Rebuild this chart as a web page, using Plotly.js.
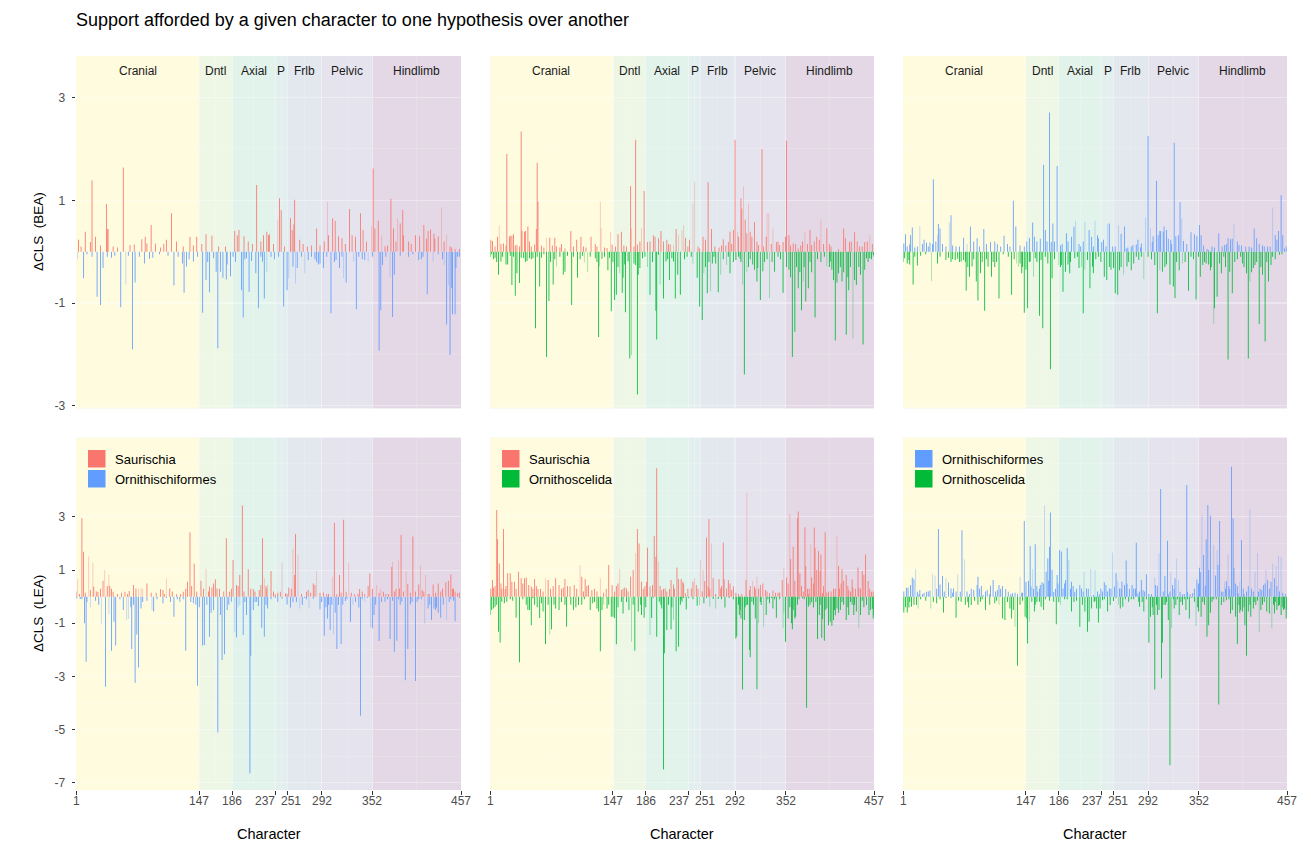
<!DOCTYPE html>
<html>
<head>
<meta charset="utf-8">
<script src="https://cdn.plot.ly/plotly-3.0.1.min.js"></script>
<style>html,body{margin:0;padding:0;background:#fff;}#chart{width:1311px;height:842px;}</style>
</head>
<body>
<div id="chart"></div>
<script>
// ---------------- DATA ----------------
const sectionNames = ['Cranial','Dntl','Axial','P','Frlb','Pelvic','Hindlimb'];
const sectionBreaks = [1,147,186,237,251,292,352,457];
const sectionColors = ['#FEFBDF','#EEF7E5','#E1F3EA','#E2EFEE','#E2E8EE','#E5E4EE','#E4D8E6'];
const hypNames = ['Saurischia','Ornithischiformes','Ornithoscelida'];
const hypColors = ['#F8766D','#619CFF','#00BA38'];
const topTickVals = [-3,-1,1,3];
const topTickText = ['-3','-1','1','3'];
const botTickVals = [-7,-5,-3,-1,1,3];
const botTickText = ['-7','-5','-3','-1','1','3'];

// each entry: [character, dCLS, pale?]
// BEA : Saurischia (+) vs Ornithischiformes (-)
const beaSauOrn_sau = [[4,0.23],[7,0.1],[12,0.39],[18,0.19],[20,1.39],[24,0.29],[30,0.12],[37,0.93],[38,0.44],[39,0.44],[45,0.1],[50,0.08],[57,1.64],[65,0.13],[70,0.14],[79,0.24],[83,0.29],[85,0.16],[90,0.52],[95,0.16],[101,0.08],[105,0.15],[108,0.23],[114,0.75],[120,0.2],[128,0.1],[136,0.29],[140,0.12],[144,0.29],[150,0.15],[155,0.34],[162,0.31],[170,0.1],[178,0.1],[189,0.4],[192,0.32],[194,0.42],[200,0.3],[205,0.2],[210,0.15],[215,1.3],[220,0.2],[223,0.32],[227,0.39],[230,0.34],[229,0.32],[235,0.15],[240,0.62,1],[242,1.04],[244,0.81],[248,0.1],[255,0.65],[257,0.42],[259,0.53],[260,1.01],[266,0.23],[270,0.15],[275,0.1],[280,0.12],[286,0.45],[290,0.12],[295,0.2],[299,0.97,1],[300,0.32],[305,0.65],[308,0.6],[312,0.3],[316,0.26],[320,0.15],[325,0.83],[328,0.32],[332,0.29],[338,0.75],[341,0.42],[345,0.2],[351,0.5,1],[353,1.62],[355,0.45],[359,0.6],[363,0.32,1],[367,0.1],[370,0.12],[374,1.03],[377,0.45],[380,0.2],[382,0.65,1],[385,0.55],[388,0.81],[389,0.32],[395,0.2],[398,0.15],[403,0.32],[408,0.3],[413,0.52],[416,0.25],[418,0.4],[421,0.43],[425,0.35],[426,0.25],[430,0.3],[434,0.86,1],[437,0.2],[440,0.34,1],[444,0.1],[446,0.08],[450,0.05],[455,0.05]];
const beaSauOrn_orn = [[3,-0.15,1],[10,-0.52],[14,-0.05],[20,-0.1],[26,-0.88],[30,-1.04],[33,-0.32],[38,-0.1],[43,-0.12],[47,-0.08],[54,-1.08],[60,-0.64,1],[63,-0.08],[68,-1.9],[71,-0.6],[76,-0.1],[82,-0.23],[88,-0.14],[92,-0.12],[100,-0.05],[110,-0.08],[117,-0.66],[122,-0.1],[127,-0.23],[129,-0.8],[132,-0.29],[135,-0.15],[140,-0.19],[145,-0.1],[151,-1.19],[155,-0.55],[157,-0.2],[159,-0.79],[164,-0.13],[167,-0.39],[169,-1.88],[172,-0.39],[175,-0.51],[179,-0.54],[180,-0.25],[184,-0.48],[187,-0.1],[190,-0.2],[197,-0.75],[199,-1.28],[201,-0.15],[203,-0.13],[206,-0.78],[209,-0.18],[214,-0.42],[217,-1.1],[220,-0.1],[222,-0.19],[224,-0.91],[227,-0.4,1],[232,-0.1],[236,-0.15],[241,-0.1],[247,-1.07],[251,-0.75],[253,-0.52,1],[258,-0.29],[261,-0.62,1],[263,-0.32],[268,-0.1],[272,-0.42,1],[276,-0.16],[280,-0.1],[284,-0.15],[286,-0.2],[288,-0.25],[290,-0.23],[294,-0.32],[298,-0.1],[303,-1.2],[307,-0.2],[309,-0.16],[313,-0.32],[316,-0.1],[318,-0.52,1],[321,-0.6],[330,-0.19,1],[333,-1.12],[336,-0.1],[340,-0.15],[343,-0.16],[347,-0.19,1],[352,-0.1],[360,-1.93],[362,-1.14],[364,-0.26],[368,-0.1],[373,-0.49,1],[376,-1.27],[378,-0.45],[385,-0.08],[395,-0.1],[400,-0.05],[407,-0.16],[410,-0.15],[412,-0.1],[417,-0.83],[424,-0.19,1],[430,-0.05],[435,-0.15],[437,-0.26,1],[440,-1.42],[442,-0.65,1],[444,-2.01],[446,-0.71],[447,-1.22],[450,-1.22],[451,-0.32],[453,-0.1],[455,-0.1]];

// BEA : Saurischia (+) vs Ornithoscelida (-)
const beaSauOsc_sau = [[2,0.23],[4,0.21],[7,0.1],[10,0.29],[12,0.51,1],[14,0.15],[17,0.16],[20,0.12],[21,1.9],[24,0.29],[25,0.31],[27,0.31],[29,0.34],[31,0.12],[33,0.13],[36,0.1],[38,2.34],[39,0.4],[42,0.39],[43,0.4],[46,0.49],[48,0.2],[50,0.1],[54,0.14],[56,0.44],[57,1.73],[58,0.97],[62,0.12],[65,0.08],[68,0.27,1],[72,0.27],[75,0.12],[78,0.27],[80,0.1],[84,0.08],[86,0.15],[90,0.06],[97,0.4],[100,0.1],[104,0.23],[109,0.29],[112,0.1],[115,0.08],[121,0.29],[126,0.15],[128,0.1],[132,0.97,1],[133,0.45,1],[137,0.08],[140,0.07],[144,0.39,1],[146,0.14],[150,0.1],[153,0.34],[157,0.39],[160,0.12],[163,0.1],[168,1.28],[169,0.45,1],[172,0.1],[174,2.18],[176,0.14],[179,0.2],[181,0.45,1],[184,1.18],[188,0.19],[191,0.2],[195,0.32],[197,0.29],[201,0.26],[204,0.4],[207,0.2],[211,0.23],[213,0.15],[215,0.14],[219,0.13,1],[222,0.44],[225,0.32,1],[229,0.42,1],[231,0.52,1],[233,0.27],[236,0.1],[238,0.23],[242,0.94,1],[244,1.36,1],[248,0.1],[250,0.06],[254,0.29],[257,0.23],[260,1.35],[264,0.44],[268,0.1],[273,0.08],[276,0.12],[278,0.24],[281,0.12],[284,0.19],[286,0.39],[288,0.15],[290,0.42],[292,2.18],[295,0.39,1],[296,0.29],[299,1.04],[300,0.84],[302,1.27,1],[304,0.62],[306,0.36],[308,0.94,1],[310,0.39],[312,0.29],[315,0.58],[318,0.2],[320,0.13],[324,2.0],[326,0.1],[329,0.29],[330,0.75,1],[332,0.75,1],[335,0.15],[337,0.45,1],[341,0.19],[343,0.2],[345,0.13],[349,0.19],[352,0.29],[353,2.16],[356,0.32],[358,0.12],[361,0.16],[364,0.15],[367,0.06],[370,0.12],[372,0.2],[375,0.39,1],[378,0.15],[381,0.42],[383,0.13],[386,0.2],[389,0.29],[392,0.23],[394,0.63,1],[397,0.15],[401,0.45],[404,0.15],[406,0.1],[415,0.05],[421,0.45],[423,0.26],[428,0.19],[430,0.2],[434,0.38],[437,0.2],[440,0.1],[443,0.1],[446,0.19],[449,0.2],[452,0.32,1],[455,0.15]];
const beaSauOsc_osc = [[1,-0.1],[3,-0.05],[5,-0.15],[7,-0.12],[9,-0.2],[11,-0.45],[14,-0.19],[16,-0.1],[20,-0.25],[22,-0.25],[25,-0.08],[27,-0.65],[29,-0.1],[31,-0.86],[33,-0.42],[36,-0.61],[38,-0.12],[41,-0.13],[43,-0.2],[45,-0.18],[48,-0.13],[50,-0.15],[52,-0.13],[55,-1.49],[57,-0.1],[60,-0.68],[62,-0.12],[65,-0.05],[68,-2.05],[71,-0.96],[73,-0.2],[76,-0.64],[78,-0.15],[80,-0.29,1],[84,-0.1],[88,-0.45],[90,-0.39],[93,-0.08],[98,-1.04],[100,-0.1],[105,-0.51],[108,-0.15],[111,-0.08],[113,-0.21,1],[117,-0.39,1],[120,-0.1],[126,-0.13],[128,-0.2],[130,-1.66],[131,-0.29,1],[134,-0.14],[137,-0.1],[141,-0.36],[143,-0.12],[145,-1.16],[147,-0.2],[149,-0.94],[151,-0.84],[153,-0.3],[155,-0.42,1],[158,-0.8],[159,-0.51],[161,-0.25],[162,-1.18],[165,-0.19],[167,-2.08],[169,-2.01,1],[172,-0.23],[174,-0.26],[176,-2.78],[177,-0.45],[179,-0.32],[182,-0.13],[185,-0.1],[188,-0.3,1],[191,-0.84],[194,-0.2],[198,-1.15],[199,-1.71],[201,-0.06],[203,-0.64,1],[207,-0.91],[210,-0.19],[212,-0.15],[214,-0.55],[217,-0.13],[219,-0.19],[221,-0.91],[224,-0.45],[227,-0.84],[232,-0.15],[235,-0.1],[240,-0.1],[242,-0.23,1],[247,-0.51],[250,-1.07],[253,-1.33],[255,-0.42,1],[257,-0.3],[259,-0.81],[261,-0.2],[263,-0.77,1],[265,-0.23],[267,-0.1],[269,-0.23],[272,-0.79],[275,-0.45,1],[278,-0.15],[282,-0.26,1],[284,-0.1],[286,-0.42],[290,-0.2],[293,-0.16],[296,-0.1],[298,-0.14],[299,-0.2],[301,-0.64,1],[303,-2.39],[306,-0.39,1],[308,-0.3],[310,-0.15],[313,-0.25],[315,-0.35],[318,-0.58],[319,-0.32],[322,-0.94],[325,-0.38],[327,-0.2],[330,-0.15],[333,-0.9,1],[336,-0.2],[339,-0.39],[343,-0.1],[346,-0.15],[349,-0.8],[353,-0.3],[356,-0.35],[358,-0.5],[360,-2.05],[363,-1.56],[365,-0.3],[367,-0.71],[369,-0.4],[371,-1.14],[373,-0.58,1],[374,-0.3],[376,-0.97],[379,-0.71],[381,-0.2],[383,-0.4],[387,-1.28],[390,-0.15],[394,-0.2],[398,-0.1],[401,-0.29,1],[404,-0.3],[405,-0.19],[407,-0.35],[409,-0.55],[411,-1.73],[413,-0.6],[415,-0.42],[417,-0.3],[419,-0.58],[421,-0.4],[424,-1.62],[426,-0.5],[427,-0.75],[429,-0.3],[432,-1.69,1],[434,-0.55],[436,-0.65],[439,-0.3],[441,-0.45],[444,-1.81],[446,-0.35],[448,-0.13],[450,-0.2],[452,-0.13],[454,-0.15],[456,-0.06],[457,-0.1]];

// BEA : Ornithischiformes (+) vs Ornithoscelida (-)
const beaOrnOsc_orn = [[2,0.16],[4,0.34],[6,0.1],[9,0.14],[10,0.32],[12,0.47],[15,0.08],[18,0.1],[21,0.5,1],[24,0.15],[26,0.23],[29,0.18],[31,0.1],[33,0.18],[36,0.15],[37,1.41],[40,0.2],[42,0.32,1],[43,0.54],[45,0.45],[48,0.15],[52,0.1],[56,0.57,1],[58,0.71],[60,0.12],[64,0.1],[68,0.1],[73,0.27],[77,0.15,1],[81,0.49],[85,0.2],[89,0.26],[92,0.1],[97,0.44],[100,0.15],[105,0.19],[110,0.2],[113,0.15],[117,0.1],[121,0.31],[125,0.15],[128,0.1],[132,0.99],[135,0.49],[140,0.12],[145,0.1],[148,0.2],[151,0.27],[155,0.57],[157,0.29],[160,0.2],[164,0.25],[168,1.69],[170,0.42],[172,0.2],[175,2.71],[177,0.19],[179,0.55],[181,0.2],[184,1.67],[188,0.12],[190,0.15],[195,0.36],[197,0.2],[201,0.29],[204,0.49],[206,0.6,1],[210,0.15],[212,0.1],[215,0.2],[217,0.58,1],[222,0.42],[225,0.29],[227,0.1],[229,0.6,1],[232,0.32],[233,0.26],[237,0.19],[239,0.23],[242,0.1],[244,0.55,1],[246,0.55],[250,0.1],[253,0.1],[257,0.51,1],[260,0.35],[264,0.49],[266,0.06],[268,0.08],[272,0.1],[274,0.13],[278,0.14],[280,0.23],[283,0.08],[284,0.16],[289,0.66,1],[292,2.25],[295,0.45,1],[297,0.19],[298,0.3],[302,1.38],[304,0.32],[306,0.4],[307,0.4],[310,0.39],[311,0.49],[314,0.42],[316,0.25],[319,0.23],[320,0.15],[323,2.12],[325,0.3],[328,0.32],[330,0.96],[332,0.64,1],[334,0.21],[338,0.15],[343,0.38],[347,0.34],[350,0.3],[353,0.52],[355,0.32],[358,0.12],[362,0.05],[364,0.03],[368,0.1],[371,0.08],[376,0.36],[380,0.1],[383,0.13],[385,0.15],[387,0.26],[390,0.24],[392,0.25],[394,0.55,1],[398,0.2],[400,0.13],[403,0.12],[408,0.1],[412,0.1],[415,0.08],[418,0.45],[421,0.26],[424,0.15],[428,0.12],[430,0.1],[434,0.1],[437,0.1],[440,0.86,1],[443,0.32],[445,0.23],[447,0.4],[450,1.1],[452,0.32],[454,0.06],[456,0.1]];
const beaOrnOsc_osc = [[1,-0.2],[3,-0.13],[6,-0.23],[8,-0.16],[9,-0.25],[13,-0.64],[15,-0.1],[18,-0.27],[22,-0.08],[28,-0.05],[35,-0.57,1],[42,-0.23],[45,-0.1],[52,-0.16],[55,-0.12],[58,-0.2],[60,-0.15],[63,-0.16],[66,-0.14],[68,-0.2],[70,-0.19],[73,-0.16],[75,-0.2],[76,-0.76],[78,-0.3],[80,-0.49],[83,-0.29],[85,-0.15],[88,-0.58],[90,-0.95],[93,-0.42],[95,-0.2],[98,-1.15],[100,-0.15],[102,-0.29],[106,-0.49],[108,-0.2],[110,-0.3],[112,-0.2],[115,-0.91],[120,-0.05],[126,-0.1],[130,-0.84],[133,-0.15],[136,-0.23,1],[138,-0.3,1],[140,-0.23],[142,-0.42],[143,-0.3],[145,-1.19],[147,-0.35],[149,-1.1],[151,-0.2],[152,-0.19],[156,-0.49,1],[158,-0.13],[160,-0.2],[163,-1.25],[165,-0.16],[167,-1.49],[170,-0.1],[173,-0.23],[176,-2.29],[178,-0.52],[181,-0.15],[186,-0.27,1],[188,-0.3],[189,-0.26],[191,-0.78],[194,-0.39],[197,-0.25],[199,-0.42],[200,-0.2],[205,-0.13],[208,-0.1],[210,-0.32],[213,-0.3,1],[215,-1.2],[217,-0.35,1],[220,-0.16],[223,-0.71],[226,-0.29],[227,-0.42],[230,-0.15],[233,-0.1],[236,-0.2],[240,-0.49],[243,-0.55],[246,-0.3],[248,-0.35],[251,-0.32],[253,-0.81],[256,-0.84],[258,-0.36],[260,-0.3],[263,-0.45,1],[267,-0.29],[269,-0.2],[272,-0.36],[275,-0.23],[278,-0.1],[281,-0.16],[284,-0.1],[287,-0.53,1],[292,-0.1],[296,-0.15],[300,-0.26],[303,-1.2],[306,-0.36,1],[309,-0.39],[312,-0.3],[314,-0.25],[318,-0.64],[322,-0.68],[324,-0.9],[326,-0.2],[329,-0.36],[333,-0.23,1],[336,-0.2],[340,-0.76],[343,-0.1],[346,-0.15],[349,-0.93],[352,-0.1],[354,-0.49],[357,-0.26],[359,-0.2],[361,-0.23],[364,-0.25],[366,-0.36],[367,-0.3],[370,-1.4,1],[371,-1.1],[374,-0.88],[377,-0.23],[379,-0.42],[382,-0.1],[384,-0.3],[387,-2.1],[389,-0.39],[392,-0.81],[395,-0.2],[398,-0.15],[402,-0.1],[404,-0.23],[406,-0.3],[409,-0.42],[411,-2.08],[413,-0.58,1],[415,-0.4],[417,-0.32],[419,-0.26],[421,-0.2],[424,-1.41],[426,-0.3],[428,-0.45],[431,-1.75],[433,-0.2],[435,-0.58],[438,-0.26],[440,-0.1],[443,-0.15],[448,-0.06],[451,-0.05]];

// LEA : Saurischia (+) vs Ornithischiformes (-)
const leaSauOrn_sau = [[1,0.2],[3,0.66,1],[5,0.1],[8,2.95],[10,1.69],[12,0.15],[16,1.51,1],[18,0.25],[21,1.28,1],[22,0.38],[25,0.2],[27,0.19],[30,0.3],[33,0.6],[35,1.0,1],[38,0.4],[40,0.82,1],[41,0.4],[43,0.3],[45,0.19],[50,0.1],[55,0.15],[59,0.19],[62,0.1],[64,0.21],[69,0.44],[72,0.31],[75,0.3,1],[78,0.35,1],[80,0.29,1],[85,0.5],[90,0.15],[96,0.15],[101,0.29],[104,0.25],[106,0.1],[108,0.69,1],[112,0.31],[115,0.2],[120,0.09],[125,0.1],[128,0.19],[131,0.3],[133,0.56],[136,2.42],[138,0.4],[141,1.24],[144,0.2],[149,0.6],[152,0.3],[155,1.04,1],[158,0.2],[159,0.38],[162,0.34],[164,0.5],[166,0.66],[168,0.31],[171,0.3],[176,0.2],[179,2.2],[183,0.19],[185,0.3],[187,1.38],[191,0.44],[193,0.4],[195,0.82],[198,3.43],[200,0.2],[205,1.03],[208,0.3],[211,0.29],[213,0.2],[218,0.25],[220,0.44],[222,2.2],[224,0.69,1],[226,0.4],[227,0.31],[228,0.46,1],[232,0.97],[235,0.2],[237,0.09],[240,0.15],[243,0.19],[245,1.28,1],[249,0.13],[251,0.1],[253,0.34],[256,0.3],[258,1.79,1],[260,0.82],[261,2.36],[264,1.57,1],[268,0.1],[274,0.19],[276,0.25],[279,0.15],[282,0.5],[284,0.44],[286,0.97,1],[290,0.15],[294,0.16],[298,0.1],[300,0.1],[305,0.75,1],[307,2.78],[310,0.09],[313,0.82],[315,0.15],[318,2.89],[321,0.19],[324,1.28,1],[327,0.15],[331,0.09],[335,0.1],[337,0.29],[340,0.2],[343,0.09],[347,0.4],[349,0.87],[352,0.3],[357,0.44,1],[360,0.15],[362,0.31,1],[365,0.19],[368,0.1],[371,0.1],[375,1.12],[376,1.32,1],[378,0.2],[380,0.3],[383,1.37,1],[384,0.31],[386,2.32],[389,0.2],[392,0.97,1],[394,0.48],[397,0.15],[400,2.26],[403,0.2],[407,0.46],[409,1.17,1],[411,0.25],[413,0.2],[415,0.82,1],[418,0.1],[420,0.09],[424,0.46],[427,0.15],[430,0.5],[433,0.2],[435,0.31],[439,0.54],[442,0.6],[445,0.84],[447,0.3],[448,0.31],[450,0.2],[453,0.13],[455,0.15]];
const leaSauOrn_orn = [[2,-0.06],[6,-0.09],[8,-0.1],[11,-1.0],[13,-2.45],[14,-0.2],[18,-0.41,1],[24,-0.15],[28,-0.3],[31,-1.04,1],[36,-3.39],[40,-0.66,1],[43,-2.03],[46,-0.94],[48,-1.84],[53,-0.1],[57,-0.5],[61,-0.88,1],[63,-0.84,1],[66,-0.4],[67,-1.97],[69,-0.3],[71,-3.24],[73,-1.42],[75,-2.66],[78,-0.44],[80,-0.2],[85,-0.15],[91,-0.5,1],[93,-0.56],[97,-0.1],[104,-0.25],[108,-0.05],[113,-0.2],[117,-0.75],[121,-0.1],[124,-0.19],[128,-0.1],[131,-2.03],[137,-0.2],[140,-0.25],[143,-0.3],[145,-3.35],[147,-0.4],[151,-1.84],[153,-1.82],[156,-0.3],[159,-1.51],[161,-0.6],[164,-0.5],[169,-5.11],[172,-0.69],[174,-2.38],[177,-2.16],[180,-0.5],[182,-0.3],[185,-0.19],[189,-1.32,1],[191,-1.53],[193,-0.4,1],[195,-0.31,1],[199,-1.44],[201,-0.2],[203,-0.69],[207,-6.65],[208,-2.22],[211,-0.5],[213,-0.2],[215,-0.19],[217,-0.35],[221,-1.17],[224,-1.51],[226,-0.3],[228,-0.44],[232,-0.1],[237,-0.05],[240,-0.19],[245,-0.08],[251,-0.29],[255,-0.41],[258,-0.2],[262,-0.2],[266,-0.44,1],[269,-0.31],[272,-0.05],[274,-0.1],[277,-0.41,1],[282,-0.08],[290,-0.47],[292,-0.2],[295,-1.47],[297,-0.4],[299,-0.82],[300,-0.3],[302,-1.25],[304,-0.3],[306,-1.41,1],[308,-0.6],[310,-1.97],[312,-0.31],[315,-1.78],[317,-0.3],[320,-0.16],[322,-0.1],[326,-0.94],[329,-0.31,1],[332,-0.2],[336,-0.41],[338,-4.48],[340,-0.1],[343,-0.19,1],[346,-0.05],[350,-1.15,1],[352,-1.19],[354,-0.69],[356,-0.3],[360,-1.67],[363,-0.2],[367,-0.19],[370,-0.1],[373,-1.59],[376,-0.15],[378,-2.07],[381,-1.66],[383,-0.1],[385,-0.3],[387,-0.19],[391,-3.14],[394,-1.97],[397,-0.29],[399,-0.2],[403,-3.17],[405,-0.19],[407,-0.1],[410,-0.1],[414,-1.0,1],[418,-0.44],[420,-0.3],[422,-0.88],[425,-0.44],[427,-0.5],[428,-0.41],[430,-0.6],[433,-0.79],[436,-0.3],[440,-0.88,1],[443,-0.2],[445,-0.1],[448,-0.15],[450,-0.92],[455,-0.05]];

// LEA : Saurischia (+) vs Ornithoscelida (-)
const leaSauOsc_sau = [[2,0.3],[4,0.63],[5,0.34],[7,0.4],[9,3.26],[10,2.16],[12,1.25],[14,0.5],[15,0.3],[17,2.55],[19,0.29],[20,0.4],[22,0.88],[25,0.88],[27,0.56],[30,0.56],[32,0.3],[35,0.94],[38,0.69],[40,0.5],[42,0.69],[44,0.72],[47,0.44],[50,0.38],[52,0.3],[54,0.67],[56,0.4],[58,0.29],[61,0.3],[64,0.2],[67,0.69,1],[70,0.63],[73,0.3],[76,0.4],[79,0.69],[83,0.44],[86,0.3],[88,0.35],[90,0.67],[93,0.4],[96,0.38],[101,0.44],[104,0.3],[108,1.19,1],[110,0.75],[112,0.2],[114,0.67],[116,0.4],[118,0.44],[122,0.25],[125,0.3],[128,0.2],[132,0.69,1],[136,0.15],[139,0.3],[142,1.19],[146,0.44],[149,0.2],[151,0.4],[153,0.5],[155,1.04,1],[157,0.25],[159,0.31],[161,0.35],[163,0.31],[165,0.2],[168,0.75],[171,1.0],[174,1.63,1],[176,2.55],[178,2.0],[181,0.56],[183,0.3],[185,0.4],[187,0.56],[188,1.84],[191,0.38],[194,0.44],[196,2.28],[198,1.5],[199,4.83],[201,1.32,1],[203,0.4],[205,0.25],[207,0.3],[209,0.31],[211,0.2],[214,0.29],[216,0.63],[219,0.46],[220,0.3],[223,1.1],[225,0.67],[228,0.67],[230,0.56],[231,0.5],[233,0.13],[236,0.3],[240,0.31],[242,0.56],[244,0.69,1],[246,0.44],[248,0.3],[251,1.38,1],[253,0.2],[254,1.0,1],[256,0.59],[258,2.22],[260,0.38],[261,2.92],[262,0.3],[264,2.0,1],[266,0.69],[269,0.1],[273,0.66],[275,0.31],[276,0.4],[278,2.03],[279,0.66],[282,0.3],[284,0.63],[286,0.5],[288,0.25],[290,0.38],[293,0.15],[296,0.1],[300,0.1],[305,0.63],[306,3.93,1],[309,0.25],[310,0.4],[313,0.59,1],[315,0.38],[316,0.3],[318,0.75,1],[320,0.3],[322,0.44],[325,0.5],[328,0.25],[330,0.2],[333,0.13],[337,0.23],[340,0.15],[343,0.15],[345,0.16],[348,0.63],[350,1.07,1],[353,0.72],[355,0.5],[357,3.1,1],[358,1.42],[361,1.88],[363,0.6],[366,2.95],[367,3.2],[369,0.88],[371,0.4],[373,0.19],[375,2.61],[376,1.15],[378,0.3],[379,0.09],[380,0.3],[382,1.97,1],[383,0.72],[385,0.5],[386,2.6],[387,1.82],[389,1.0],[391,1.72],[393,0.97],[394,1.59],[396,0.13],[397,0.4],[399,2.42],[401,0.16],[403,0.2],[406,0.2],[409,0.3],[411,0.3],[413,2.28,1],[415,1.15],[416,0.31],[418,0.5],[419,1.03],[421,0.6],[424,0.82],[426,0.4],[427,0.25],[429,0.2],[431,0.66],[432,0.34],[435,0.3],[438,1.1],[439,0.34],[441,0.3],[443,0.97],[445,0.82],[447,1.59],[450,0.59],[452,0.3],[454,0.19],[456,0.2]];
const leaSauOsc_osc = [[1,-0.69],[3,-0.5],[5,-0.44],[7,-0.38],[9,-0.3],[11,-1.32],[13,-1.72],[15,-0.19],[18,-0.25],[21,-0.19],[25,-0.1],[28,-0.15],[32,-0.79],[36,-2.47],[40,-0.1],[44,-0.3],[46,-0.5],[48,-0.5],[50,-1.07],[52,-0.06],[54,-0.3],[57,-0.4],[60,-0.8],[62,-0.25],[64,-0.56],[67,-1.79],[70,-0.3],[72,-1.42,1],[74,-1.22],[77,-0.3],[79,-0.44],[83,-0.5],[86,-0.2],[90,-0.3],[92,-1.13],[97,-0.3],[100,-0.5],[103,-0.4],[106,-0.31],[110,-0.3],[113,-0.1],[120,-0.5],[123,-0.25],[125,-0.2],[128,-0.44],[130,-0.56],[132,-2.05],[134,-0.5],[136,-0.3,1],[140,-0.44],[142,-0.3],[145,-0.75],[147,-0.75],[149,-0.8],[151,-1.79],[153,-0.4],[157,-0.19],[159,-0.63],[163,-0.2],[166,-0.5],[169,-1.69,1],[171,-0.3],[173,-2.03],[177,-0.56],[180,-0.3],[181,-0.69],[184,-0.79],[186,-0.4],[191,-1.44,1],[193,-0.8],[195,-0.04],[199,-1.51],[202,-0.19],[204,-0.3],[205,-0.44],[207,-6.5],[208,-2.13],[211,-1.25],[213,-0.3],[216,-1.22],[217,-0.4],[219,-0.88,1],[222,-2.05],[225,-1.88],[227,-0.3],[228,-0.1],[229,-0.19],[231,-0.05],[234,-0.48],[237,-0.06],[242,-0.1],[247,-0.34],[250,-0.31,1],[255,-0.25],[258,-0.05],[262,-0.38,1],[266,-0.09],[269,-0.44,1],[272,-0.09],[276,-0.1],[280,-0.41],[285,-0.05],[290,-0.1],[293,-1.57],[294,-1.5],[296,-0.3],[297,-0.69],[298,-0.5],[299,-0.82],[301,-3.49],[303,-0.88],[304,-0.4],[306,-0.31],[307,-0.3],[309,-2.0],[310,-2.28],[312,-0.19],[314,-0.3],[316,-0.82],[318,-3.48],[320,-1.0,1],[322,-0.2],[323,-0.31],[326,-1.13,1],[329,-0.69],[331,-0.1],[333,-0.25],[335,-0.05],[337,-0.44],[339,-0.1],[341,-0.79],[345,-0.1],[349,-1.19,1],[350,-0.6,1],[352,-1.69],[355,-0.82],[357,-0.4],[359,-1.0],[360,-1.22],[361,-0.5],[363,-0.82],[364,-0.75],[366,-0.3],[368,-0.1],[372,-0.06],[374,-0.1],[377,-4.18],[379,-0.38],[381,-0.3],[383,-0.2],[385,-0.41],[388,-0.2],[390,-1.59],[392,-0.69],[393,-0.3],[395,-1.54],[396,-0.84],[398,-1.66],[399,-0.5],[401,-0.44],[403,-1.07],[405,-0.94],[407,-1.09],[409,-0.88],[410,-0.5],[411,-0.7],[413,-0.44],[415,-0.6],[417,-0.5],[419,-0.2],[421,-0.3],[424,-0.88],[426,-0.4],[427,-0.69],[429,-0.2],[431,-0.3],[433,-0.69],[434,-0.3],[436,-0.56],[439,-1.17,1],[441,-0.69],[443,-0.15],[445,-0.4],[448,-0.31],[451,-0.69],[453,-0.5],[455,-0.45],[456,-0.82],[457,-0.7]];

// LEA : Ornithischiformes (+) vs Ornithoscelida (-)
const leaOrnOsc_orn = [[2,0.2],[5,0.34],[7,0.34],[10,0.44],[12,0.72],[14,0.66],[16,1.04,1],[18,0.19],[20,0.1],[21,0.25],[24,0.1],[26,0.15],[29,0.19],[31,0.2],[33,0.23],[36,0.84,1],[39,0.79,1],[41,0.3],[43,2.55],[45,0.46],[48,0.78],[50,0.2],[52,0.69,1],[55,0.53],[58,0.31],[60,0.15],[61,0.31],[64,0.2],[66,0.84,1],[69,0.19],[71,2.5],[74,1.41,1],[77,0.2],[80,0.1],[82,0.3],[85,0.25],[89,0.44],[90,0.75],[92,0.3],[94,0.4],[96,0.06],[99,0.2],[101,0.25],[104,0.1],[105,0.41],[108,0.63],[111,0.2],[113,0.25],[115,0.44],[117,0.3],[119,0.4],[123,0.29],[126,0.19],[129,0.1],[131,0.13],[134,0.15],[137,0.1],[140,0.75,1],[142,0.15],[143,0.15],[145,2.85],[147,0.56],[150,0.6],[152,1.91],[153,0.38],[155,1.04,1],[156,0.3],[158,1.97],[160,0.4],[161,0.19],[163,0.3],[164,0.44],[166,0.54],[168,0.5],[169,3.43,1],[171,0.94],[173,1.44],[174,0.6],[175,1.88],[176,3.17],[178,1.0],[180,0.19],[182,0.3],[184,0.82],[185,0.5],[187,1.76],[189,1.7],[191,0.31],[193,0.5],[194,0.63],[196,1.82],[198,1.38,1],[200,0.3],[201,0.56],[203,0.4],[205,0.19],[207,0.3],[211,0.44],[213,0.31],[215,0.2],[216,0.94,1],[219,0.31],[221,0.3],[224,1.04,1],[227,0.06],[229,1.0,1],[232,0.2],[234,0.09],[236,0.3],[238,0.2],[240,0.54],[242,0.44],[244,0.2],[246,0.31],[248,0.3],[250,1.66,1],[252,0.38],[254,0.88],[256,0.59,1],[258,0.31],[260,0.3],[261,0.56],[264,0.44],[266,1.36],[267,0.5],[270,0.3],[273,0.44],[275,0.31],[277,0.3],[278,2.03],[280,0.13],[282,0.2],[284,0.63],[286,0.25],[288,0.2],[290,0.84],[293,0.1],[296,0.1],[300,0.72,1],[301,0.44],[303,0.4],[305,1.63,1],[307,4.05],[310,0.2],[312,0.78],[315,2.1],[316,0.09],[318,0.2],[319,0.92,1],[321,0.44],[323,0.3],[324,0.69],[326,1.44,1],[328,0.63,1],[330,0.19],[333,0.09],[335,0.1],[338,4.2],[339,0.19],[342,0.1],[345,0.13],[347,0.3],[350,0.65],[352,0.5],[353,1.09],[354,0.92],[356,3.07,1],[358,1.57],[360,0.41],[361,2.16],[363,3.45],[364,1.0],[366,3.04],[370,1.94,1],[372,0.8],[374,1.76,1],[375,1.19],[377,2.85],[379,0.2],[381,0.19],[383,0.56,1],[384,0.3],[385,0.59],[387,1.61,1],[388,0.4],[389,0.29],[391,4.89],[393,2.95],[394,1.09],[396,0.5],[398,0.4],[399,0.13],[401,0.56,1],[403,2.13],[405,0.31],[406,0.1],[409,0.2],[411,0.4],[413,3.3,1],[415,0.31],[417,0.2],[419,0.94,1],[422,1.63,1],[423,0.19],[425,0.3],[427,0.25],[429,0.44],[431,0.5],[432,1.0,1],[434,0.63],[436,0.3],[438,0.56],[440,1.25,1],[442,0.69],[444,1.15,1],[445,0.4],[447,1.53,1],[448,0.2],[450,1.5,1],[452,0.15],[455,0.1]];
const leaOrnOsc_osc = [[2,-0.59],[4,-0.4],[6,-0.59],[8,-0.41],[9,-0.2],[11,-0.38],[14,-0.3],[17,-0.31],[19,-0.44,1],[22,-0.1],[28,-0.15],[34,-0.44,1],[37,-0.2],[41,-0.25],[45,-0.1],[49,-0.59],[52,-0.05],[58,-0.05],[64,-0.79],[67,-0.15],[70,-0.19],[75,-0.3],[78,-0.2],[79,-0.41],[82,-0.31],[86,-0.15],[90,-0.3],[93,-0.19],[95,-0.1],[99,-0.5],[104,-0.3],[110,-0.25],[112,-0.15],[115,-0.3,1],[119,-0.82],[122,-0.88],[125,-0.2],[128,-0.44],[130,-0.82],[132,-0.5],[134,-1.13,1],[137,-2.6],[140,-0.3],[143,-0.15],[146,-0.75],[148,-0.82],[149,-1.76],[151,-0.94,1],[154,-0.19],[157,-0.56],[158,-0.3],[160,-0.2],[163,-0.19],[165,-0.38],[168,-0.5],[170,-0.1],[175,-0.15],[180,-0.19],[183,-1.04],[186,-0.2],[188,-0.3,1],[193,-0.1],[196,-0.1],[201,-0.56],[204,-0.2],[207,-0.15],[211,-1.13],[214,-0.3],[217,-0.56],[220,-1.32],[222,-0.94],[225,-0.44],[228,-0.2],[229,-0.16],[231,-0.44],[233,-0.97],[235,-0.44],[238,-0.13],[240,-0.1],[244,-0.56],[247,-0.31],[251,-0.16],[254,-0.05],[257,-0.3,1],[259,-0.44],[262,-0.38],[265,-0.1],[269,-0.19],[272,-0.1],[275,-0.1],[281,-0.19],[282,-0.38],[285,-0.2],[287,-0.56],[290,-0.1],[293,-1.73],[295,-0.75],[297,-0.4],[298,-0.69],[300,-3.49],[302,-0.3],[303,-0.69],[305,-0.5],[308,-3.07],[309,-1.73],[311,-0.31],[313,-0.3],[314,-0.2],[316,-0.88],[318,-6.34],[320,-1.19,1],[322,-0.1],[323,-0.44],[325,-0.31],[327,-0.1],[329,-0.69],[331,-0.2],[333,-0.31],[335,-0.1],[337,-0.5],[339,-0.1],[341,-0.82],[344,-0.05],[347,-0.19],[349,-1.1,1],[351,-0.4],[352,-0.56],[355,-0.75],[357,-0.2],[359,-0.3],[362,-1.51],[364,-1.07],[366,-0.6],[368,-0.19],[370,-0.1],[373,-0.1],[376,-4.05],[379,-0.31],[382,-0.2],[385,-0.13],[388,-0.1],[390,-0.63],[392,-0.5],[396,-0.75],[398,-1.78],[400,-0.31],[401,-0.6],[402,-0.5],[404,-0.56],[406,-0.4],[407,-1.07],[409,-2.22],[411,-0.56],[413,-0.3],[414,-0.75],[417,-0.44],[418,-0.2],[420,-0.31],[422,-0.15],[424,-1.34,1],[426,-0.5],[428,-0.3],[430,-0.2],[433,-0.56],[436,-0.63],[439,-1.19,1],[441,-0.3],[442,-0.63],[443,-0.2],[445,-0.5],[447,-0.35],[448,-0.31],[450,-0.69],[452,-0.4],[453,-0.5],[454,-0.45],[456,-0.82],[457,-0.5]];

// panel definitions: [positive series, its hypothesis index, negative series, its hypothesis index]
const panels = [
  [beaSauOrn_sau,0,beaSauOrn_orn,1],
  [beaSauOsc_sau,0,beaSauOsc_osc,2],
  [beaOrnOsc_orn,1,beaOrnOsc_osc,2],
  [leaSauOrn_sau,0,leaSauOrn_orn,1],
  [leaSauOsc_sau,0,leaSauOsc_osc,2],
  [leaOrnOsc_orn,1,leaOrnOsc_osc,2]
];

// ---------------- LAYOUT ----------------
const W = 1311, H = 842;
const colPx = [[76,461],[490,874],[903,1287]];
const rowPx = [[56,408.3],[437.7,790]];
const FONT = '"Liberation Sans", Arial, Helvetica, sans-serif';
const minorX = [];
for (let i = 0; i < sectionBreaks.length - 1; i++) minorX.push((sectionBreaks[i] + sectionBreaks[i+1]) / 2);
// x tick label placement: [anchor, pixel shift] (237 and 251 nudged apart, as in the reference)
const xTickAnchor = {237: ['right', 2], 251: ['left', -8]};

const traces = [];
const layout = {
  width: W, height: H,
  margin: {l:0, r:0, t:0, b:0},
  paper_bgcolor: '#ffffff',
  plot_bgcolor: '#EBEBEB',
  barmode: 'overlay',
  showlegend: false,
  font: {family: FONT, color: '#000000'},
  title: {text: 'Support afforded by a given character to one hypothesis over another',
          x: 76/W, xanchor: 'left', xref: 'paper', y: 1 - 20/H, yanchor: 'middle', yref: 'paper',
          font: {family: FONT, size: 18, color: '#000000'}},
  shapes: [],
  annotations: []
};

function op(d){ return d[2] ? 0.4 : 1; }

panels.forEach((p, i) => {
  const n = i + 1;
  const row = i < 3 ? 0 : 1;
  const col = i % 3;
  const xa = 'x' + (n === 1 ? '' : n), ya = 'y' + (n === 1 ? '' : n);
  const xKey = 'xaxis' + (n === 1 ? '' : n), yKey = 'yaxis' + (n === 1 ? '' : n);
  const [pos, pi, neg, ni] = p;
  traces.push({type:'bar', x: pos.map(d=>d[0]), y: pos.map(d=>d[1]), xaxis: xa, yaxis: ya,
    width: 1, marker: {color: hypColors[pi], opacity: pos.map(op), line:{width:0}}, hoverinfo:'x+y', name: hypNames[pi]});
  traces.push({type:'bar', x: neg.map(d=>d[0]), y: neg.map(d=>d[1]), xaxis: xa, yaxis: ya,
    width: 1, marker: {color: hypColors[ni], opacity: neg.map(op), line:{width:0}}, hoverinfo:'x+y', name: hypNames[ni]});

  const bottom = row === 1;
  layout[xKey] = {
    domain: [colPx[col][0]/W, colPx[col][1]/W], anchor: ya,
    range: [1, 457], tickmode: 'array', tickvals: sectionBreaks, ticktext: sectionBreaks.map(String), tickangle: 0,
    showticklabels: false, ticks: bottom ? 'outside' : '', ticklen: 3.5, tickwidth: 1, tickcolor: '#333333',
    showgrid: true, gridcolor: 'rgba(255,255,255,0.35)', gridwidth: 1.1,
    minor: {tickmode: 'array', tickvals: minorX, showgrid: true, gridcolor: 'rgba(255,255,255,0.3)', gridwidth: 0.55, ticks: ''},
    zeroline: false, showline: false, fixedrange: true
  };
  layout[yKey] = {
    domain: [1 - rowPx[row][1]/H, 1 - rowPx[row][0]/H], anchor: xa,
    range: bottom ? [-7.27, 5.98] : [-3.05, 3.81],
    tickmode: 'array', tickvals: bottom ? botTickVals : topTickVals, ticktext: bottom ? botTickText : topTickText,
    showticklabels: col === 0, ticks: col === 0 ? 'outside' : '', ticklen: 3.5, tickwidth: 1, tickcolor: '#333333',
    ticklabelstandoff: 4,
    tickfont: {family: FONT, size: 12, color: '#4D4D4D'},
    showgrid: true, gridcolor: 'rgba(255,255,255,0.35)', gridwidth: 1.1,
    minor: {tickmode: 'array', tickvals: bottom ? [-6,-4,-2,0,2,4,5] : [-2,0,2], showgrid: true, gridcolor: 'rgba(255,255,255,0.3)', gridwidth: 0.55, ticks: ''},
    zeroline: false, showline: false, fixedrange: true
  };

  // section background rectangles
  for (let s = 0; s < sectionNames.length; s++) {
    layout.shapes.push({type:'rect', xref: xa, yref: ya + ' domain', x0: sectionBreaks[s], x1: sectionBreaks[s+1], y0: 0, y1: 1,
      fillcolor: sectionColors[s], line: {width: 0}, layer: 'below'});
  }

  const px0 = colPx[col][0];
  if (!bottom) {
    // section labels
    for (let s = 0; s < sectionNames.length; s++) {
      layout.annotations.push({text: sectionNames[s], xref: xa, yref: 'paper', x: (sectionBreaks[s]+sectionBreaks[s+1])/2,
        y: 1 - 71/H, xanchor: 'center', yanchor: 'middle', showarrow: false, font: {family: FONT, size: 12, color: '#1A1A1A'}});
    }
  } else {
    // x tick labels
    sectionBreaks.forEach(v => {
      const a = xTickAnchor[v] || ['center', 0];
      layout.annotations.push({text: String(v), xref: xa, yref: 'paper', x: v, xshift: a[1], y: 1-801/H,
        xanchor: a[0], yanchor: 'middle', showarrow: false, font: {family: FONT, size: 12, color: '#4D4D4D'}});
    });
    // legend keys inside panel
    [pi, ni].forEach((h, k) => {
      const top = 450 + k*20;
      layout.shapes.push({type:'rect', xref:'paper', yref:'paper', x0:(px0+12)/W, x1:(px0+29.5)/W,
        y0: 1-(top+17.5)/H, y1: 1-top/H, fillcolor: hypColors[h], line:{width:0}, layer:'above'});
      layout.annotations.push({text: hypNames[h], xref:'paper', yref:'paper', x:(px0+37)/W, y: 1-(top+9)/H,
        xanchor:'left', yanchor:'middle', showarrow:false, font:{family: FONT, size: 13, color:'#000000'}});
    });
    // x axis title
    layout.annotations.push({text: 'Character', xref:'paper', yref:'paper', x: (colPx[col][0]+colPx[col][1])/2/W, y: 1-834/H,
      xanchor:'center', yanchor:'middle', showarrow:false, font:{family: FONT, size: 14.5, color:'#000000'}});
  }
});

// y axis titles
layout.annotations.push({text: 'ΔCLS  (BEA)', xref:'paper', yref:'paper', x: 38/W, y: 1-232/H, textangle: -90,
  xanchor:'center', yanchor:'middle', showarrow:false, font:{family: FONT, size: 13.5, color:'#000000'}});
layout.annotations.push({text: 'ΔCLS  (LEA)', xref:'paper', yref:'paper', x: 38/W, y: 1-614/H, textangle: -90,
  xanchor:'center', yanchor:'middle', showarrow:false, font:{family: FONT, size: 13.5, color:'#000000'}});

Plotly.newPlot('chart', traces, layout, {displayModeBar: false, staticPlot: true});
</script>
</body>
</html>
